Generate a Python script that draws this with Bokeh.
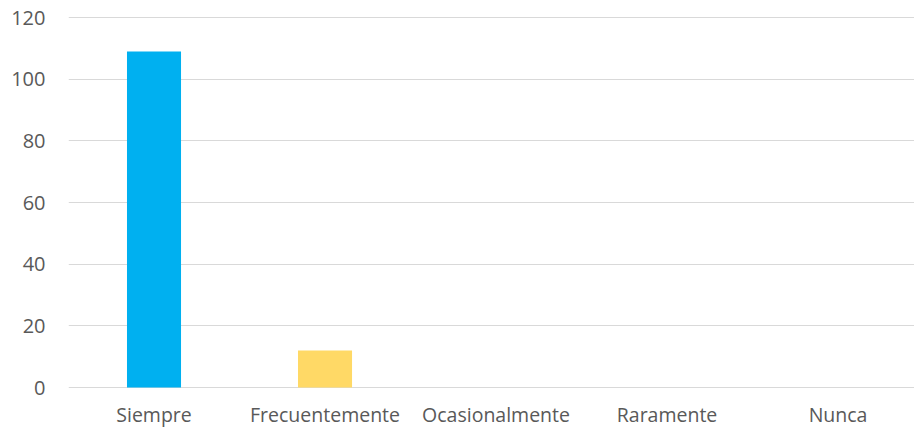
from bokeh.plotting import figure
from bokeh.models import Range1d, FixedTicker, ColumnDataSource
from bokeh.core.properties import value
from bokeh.embed import file_html
from bokeh.resources import INLINE

categories = ["Siempre", "Frecuentemente", "Ocasionalmente", "Raramente", "Nunca"]
values = [109, 12, 0, 0, 0]
colors = ["#00B0F0", "#FFD966", "#A5A5A5", "#ED7D31", "#5B9BD5"]
y_ticks = [0, 20, 40, 60, 80, 100, 120]

positions = [i + 0.5 for i in range(len(categories))]
LABEL_Y = -8.9  # category labels sit below the zero line

src = ColumnDataSource(dict(x=positions, top=values, color=colors, cat=categories,
                            ly=[LABEL_Y] * len(categories)))

p = figure(width=914, height=429, output_backend="svg", toolbar_location=None,
           x_range=Range1d(0, 4.947), y_range=Range1d(-13.62, 121.3),
           min_border_left=68, min_border_right=0, min_border_top=13, min_border_bottom=0)

p.vbar(x="x", top="top", width=0.316, fill_color="color", line_color=None, source=src)

p.text(x="x", y="ly", text="cat", source=src, text_align="center",
       text_baseline="alphabetic", text_color="#595959",
       text_font=value("Open Sans"), text_font_size="19.5px")

p.outline_line_color = None
p.xgrid.grid_line_color = None
p.ygrid.grid_line_color = "#D9D9D9"
p.ygrid.grid_line_width = 1
p.xaxis.visible = False

p.yaxis.ticker = FixedTicker(ticks=y_ticks)
ax = p.yaxis
ax.axis_line_color = None
ax.major_tick_line_color = None
ax.minor_tick_line_color = None
ax.major_tick_out = 0
ax.major_tick_in = 0
ax.major_label_text_color = "#595959"
ax.major_label_text_font = "Open Sans"
ax.major_label_text_font_size = "20px"
ax.major_label_standoff = 23

open("out.html", "w").write(file_html(p, INLINE))
